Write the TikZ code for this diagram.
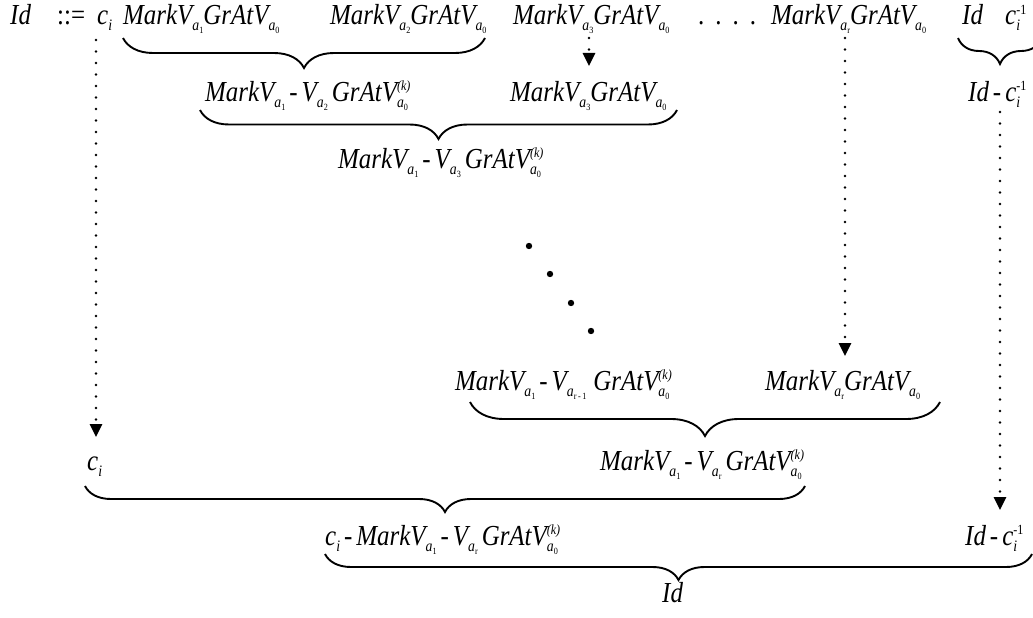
\documentclass[tikz,border=0pt]{standalone}
\usepackage{fontspec}
\setmainfont[FakeStretch=0.86]{Liberation Serif}
\usetikzlibrary{decorations.pathreplacing,arrows.meta}
\newcommand\tsub[2]{\raisebox{-6pt}{\fontsize{16}{16}\selectfont\itshape #1\raisebox{-3pt}{\fontsize{9.5}{9.5}\selectfont\upshape #2}}}
\newcommand\tsubsup[3]{\rlap{\raisebox{10.5pt}{\fontsize{14}{14}\selectfont #3}}\tsub{#1}{#2}}
\newcommand\hy{\hskip4pt-\hskip4pt}
\newcommand\MGa[1]{MarkV\tsub{a}{#1}GrAtV\tsub{a}{0}}
\newcommand\MVk[1]{MarkV\tsub{a}{1}\hy V\tsub{a}{#1}\hskip4pt GrAtV\tsubsup{a}{0}{(k)}}
\begin{document}
\begin{tikzpicture}[x=1pt,y=-1pt,
  lbl/.style={anchor=base west,inner sep=0pt,font=\fontsize{29}{31}\selectfont\itshape},
  brc/.style={decorate,decoration={brace,mirror,amplitude=#1},line width=1.9pt},
  dotline/.style={line width=2.8pt,line cap=round,dash pattern=on 0pt off 11.5pt,
    -{Triangle[width=12pt,length=13pt]}}]
\useasboundingbox (0,0) rectangle (1033,618);
% row 1
\node[lbl] (id) at (10,25) {Id};
\node[lbl] (def) at (57,25) {\upshape ::=};
\node[lbl] (ci) at (97,25) {c\tsub{i}{}};
\node[lbl] (L1) at (123,25) {\MGa{1}};
\node[lbl] (L2) at (330,25) {\MGa{2}};
\node[lbl] (L3) at (513,25) {\MGa{3}};
\node[lbl] (dots) at (698,25) {\upshape .\hskip11pt.\hskip11pt.\hskip11pt.};
\node[lbl] (L4) at (771,25) {\MGa{r}};
\node[lbl] (id2) at (962,25) {Id};
\node[lbl] (cinv) at (1005,25) {c\tsubsup{i}{}{\upshape -1}};
% row 2
\node[lbl] (L5) at (205,101) {\MVk{2}};
\node[lbl] (L6) at (510,101) {\MGa{3}};
\node[lbl] (idc) at (968,101) {Id\hy c\tsubsup{i}{}{\upshape -1}};
% row 3
\node[lbl] (L7) at (338,168) {\MVk{3}};
% row 4
\node[lbl] (L8) at (455,390) {\MVk{r\hskip1.5pt-\hskip1.5pt1\hskip3pt}};
\node[lbl] (L9) at (765,390) {\MGa{r}};
% row 5
\node[lbl] (ci2) at (87,470) {c\tsub{i}{}};
\node[lbl] (L10) at (600,470) {\MVk{r}};
% row 6
\node[lbl] (L11) at (325,545) {c\tsub{i}{}\hy\MVk{r}};
\node[lbl] (idc2) at (965,545) {Id\hy c\tsubsup{i}{}{\upshape -1}};
% row 7
\node[lbl] (idf) at (662,602) {Id};
% braces
\coordinate (bA1) at (123,38); \coordinate (bA2) at (485,38);
\coordinate (bB1) at (958,38); \coordinate (bB2) at (1042,38);
\coordinate (bC1) at (200,110); \coordinate (bC2) at (677,110);
\coordinate (bD1) at (470,402); \coordinate (bD2) at (940,402);
\coordinate (bE1) at (85,486); \coordinate (bE2) at (805,486);
\coordinate (bF1) at (325,554); \coordinate (bF2) at (1032,554);
\draw[brc=30pt] (bA1) -- (bA2);
\draw[brc=26pt] (bB1) -- (bB2);
\draw[brc=29pt] (bC1) -- (bC2);
\draw[brc=34pt] (bD1) -- (bD2);
\draw[brc=26pt] (bE1) -- (bE2);
\draw[brc=26pt] (bF1) -- (bF2);
% dotted arrows
\coordinate (a1s) at (96,40); \coordinate (a1e) at (96,437);
\coordinate (a2s) at (589,38); \coordinate (a2e) at (589,66);
\coordinate (a3s) at (845,38); \coordinate (a3e) at (845,356);
\coordinate (a4s) at (1000,112); \coordinate (a4e) at (1000,510);
\draw[dotline] (a1s) -- (a1e);
\draw[dotline] (a2s) -- (a2e);
\draw[dotline] (a3s) -- (a3e);
\draw[dotline] (a4s) -- (a4e);
% diagonal dots
\foreach \x/\y in {529/246,550/274,571/303,591/331} \fill (\x,\y) circle (3.2pt);
\end{tikzpicture}
\end{document}
